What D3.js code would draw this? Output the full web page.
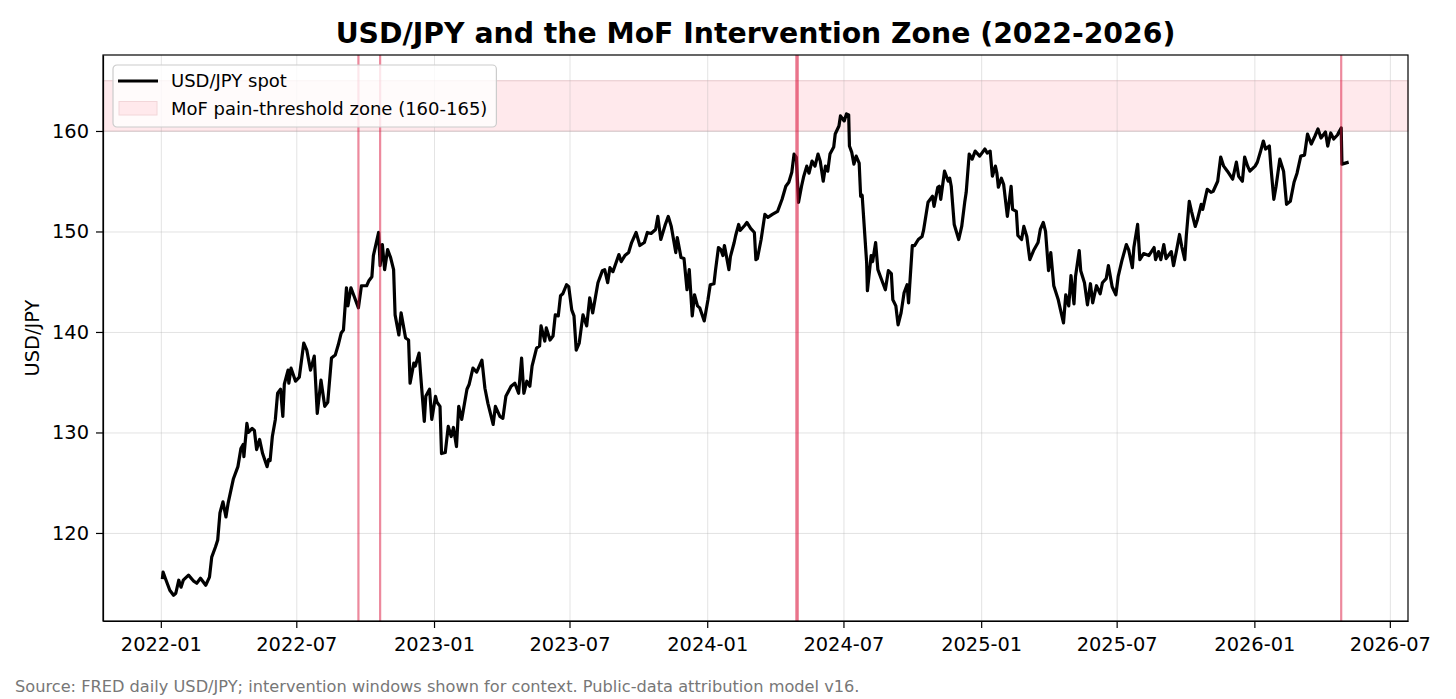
<!DOCTYPE html>
<html lang="en">
<head>
<meta charset="UTF-8">
<title>USD/JPY and the MoF Intervention Zone</title>
<script src="https://d3js.org/d3.v7.min.js"></script>
<style>
    body { margin: 0; background: #fff; }
    svg { font-family: "DejaVu Sans", sans-serif; }
    .grid line { stroke: #b0b0b0; stroke-opacity: 0.35; stroke-width: 1px; }
    .grid path { display: none; }
    .axis path, .axis line { stroke: #000; stroke-width: 1.2px; }
    .axis text { font-family: "DejaVu Sans", sans-serif; font-size: 19.4px; fill: #000; }
</style>
</head>
<body>
<svg width="1456" height="699"></svg>
<script>
const dates = [
    "2022-01-03","2022-01-04","2022-01-07","2022-01-13","2022-01-18","2022-01-21","2022-01-25","2022-01-28","2022-01-31",
    "2022-02-07","2022-02-14","2022-02-18","2022-02-23","2022-03-02","2022-03-07","2022-03-10","2022-03-15","2022-03-18",
    "2022-03-21","2022-03-25","2022-03-29","2022-04-01","2022-04-08","2022-04-14","2022-04-18","2022-04-21","2022-04-22",
    "2022-04-26","2022-04-28","2022-05-03","2022-05-06","2022-05-09","2022-05-13","2022-05-17","2022-05-23","2022-05-25",
    "2022-05-27","2022-05-30","2022-06-03","2022-06-06","2022-06-10","2022-06-13","2022-06-15","2022-06-20","2022-06-21",
    "2022-06-24","2022-06-30","2022-07-05","2022-07-11","2022-07-15","2022-07-20","2022-07-25","2022-07-29","2022-08-03",
    "2022-08-08","2022-08-12","2022-08-17","2022-08-22","2022-08-26","2022-08-30","2022-09-02","2022-09-06","2022-09-08",
    "2022-09-12","2022-09-16","2022-09-22","2022-09-26","2022-10-03","2022-10-06","2022-10-10","2022-10-12","2022-10-19",
    "2022-10-21","2022-10-24","2022-10-27","2022-10-31","2022-11-04","2022-11-08","2022-11-10","2022-11-15","2022-11-18",
    "2022-11-24","2022-11-28","2022-11-30","2022-12-05","2022-12-07","2022-12-12","2022-12-15","2022-12-19","2022-12-21",
    "2022-12-26","2022-12-29",
    "2023-01-03","2023-01-05","2023-01-09","2023-01-11","2023-01-16","2023-01-20","2023-01-24","2023-01-27","2023-01-31",
    "2023-02-03","2023-02-07","2023-02-14","2023-02-17","2023-02-22","2023-02-27","2023-03-06","2023-03-10","2023-03-14",
    "2023-03-21","2023-03-24","2023-03-30","2023-04-03","2023-04-07","2023-04-14","2023-04-19","2023-04-24","2023-04-28",
    "2023-05-01","2023-05-05","2023-05-09","2023-05-12","2023-05-18","2023-05-22","2023-05-24","2023-05-29","2023-05-31",
    "2023-06-05","2023-06-09","2023-06-12","2023-06-16","2023-06-19","2023-06-22","2023-06-27","2023-06-30","2023-07-04",
    "2023-07-07","2023-07-10","2023-07-14","2023-07-19","2023-07-24","2023-07-28","2023-08-01","2023-08-08","2023-08-14",
    "2023-08-17","2023-08-21","2023-08-24","2023-08-28","2023-09-05","2023-09-08","2023-09-13","2023-09-18","2023-09-22",
    "2023-09-28","2023-10-03","2023-10-09","2023-10-13","2023-10-18","2023-10-24","2023-10-27","2023-10-31","2023-11-06",
    "2023-11-10","2023-11-14","2023-11-20","2023-11-22","2023-11-27","2023-12-01","2023-12-05","2023-12-08","2023-12-12",
    "2023-12-15","2023-12-19","2023-12-22","2023-12-28",
    "2024-01-02","2024-01-05","2024-01-10","2024-01-12","2024-01-16","2024-01-19","2024-01-22","2024-01-24","2024-01-30",
    "2024-02-01","2024-02-06","2024-02-08","2024-02-12","2024-02-14","2024-02-20","2024-02-23","2024-02-28","2024-03-04",
    "2024-03-06","2024-03-08","2024-03-13","2024-03-18","2024-03-22","2024-03-28","2024-04-04","2024-04-10","2024-04-15",
    "2024-04-19","2024-04-23","2024-04-26","2024-04-29","2024-05-02","2024-05-06","2024-05-09","2024-05-13","2024-05-16",
    "2024-05-20","2024-05-24","2024-05-28","2024-05-31","2024-06-04","2024-06-07","2024-06-10","2024-06-13","2024-06-18",
    "2024-06-20","2024-06-25","2024-06-27","2024-07-02","2024-07-05","2024-07-08","2024-07-09","2024-07-12","2024-07-15",
    "2024-07-18","2024-07-22","2024-07-24","2024-07-26","2024-08-01","2024-08-02","2024-08-07","2024-08-09","2024-08-13",
    "2024-08-16","2024-08-21","2024-08-26","2024-08-30","2024-09-03","2024-09-05","2024-09-09","2024-09-12","2024-09-16",
    "2024-09-20","2024-09-24","2024-09-26","2024-10-01","2024-10-04","2024-10-09","2024-10-14","2024-10-16","2024-10-22",
    "2024-10-28","2024-10-30","2024-11-04","2024-11-06","2024-11-08","2024-11-13","2024-11-18","2024-11-20","2024-11-22",
    "2024-11-26","2024-12-02","2024-12-06","2024-12-10","2024-12-12","2024-12-16","2024-12-20","2024-12-24","2024-12-30",
    "2025-01-06","2025-01-09","2025-01-13","2025-01-16","2025-01-20","2025-01-22","2025-01-24","2025-01-28","2025-01-31",
    "2025-02-05","2025-02-10","2025-02-12","2025-02-17","2025-02-19","2025-02-24","2025-02-27","2025-03-03","2025-03-07",
    "2025-03-12","2025-03-18","2025-03-21","2025-03-25","2025-03-28","2025-04-01","2025-04-04","2025-04-08","2025-04-14",
    "2025-04-17","2025-04-21","2025-04-24","2025-04-28","2025-05-01","2025-05-05","2025-05-07","2025-05-12","2025-05-14",
    "2025-05-19","2025-05-23","2025-05-27","2025-05-30","2025-06-04","2025-06-09","2025-06-12","2025-06-17","2025-06-20",
    "2025-06-25","2025-06-30","2025-07-03","2025-07-08","2025-07-14","2025-07-17","2025-07-22","2025-07-24","2025-07-29",
    "2025-08-01","2025-08-06","2025-08-13","2025-08-20","2025-08-22","2025-08-26","2025-08-29","2025-09-02","2025-09-05",
    "2025-09-12","2025-09-15","2025-09-19","2025-09-23","2025-09-26","2025-09-30","2025-10-02","2025-10-06","2025-10-09",
    "2025-10-14","2025-10-17","2025-10-22","2025-10-24","2025-10-30","2025-11-04","2025-11-07","2025-11-13","2025-11-17",
    "2025-11-21","2025-11-26","2025-12-03","2025-12-08","2025-12-11","2025-12-16","2025-12-19","2025-12-23","2025-12-26",
    "2026-01-02","2026-01-05","2026-01-09","2026-01-13","2026-01-16","2026-01-21","2026-01-23","2026-01-27","2026-01-30",
    "2026-02-04","2026-02-09","2026-02-13","2026-02-18","2026-02-23","2026-02-27","2026-03-04","2026-03-09","2026-03-13",
    "2026-03-18","2026-03-23","2026-03-27","2026-03-31","2026-04-06","2026-04-09","2026-04-13","2026-04-17","2026-04-22",
    "2026-04-24","2026-04-27","2026-04-28","2026-05-07"
];

const spot = [
    115.4,116.1,115.5,114.3,113.8,114.0,115.3,114.6,115.3,
    115.8,115.2,115.0,115.5,114.8,115.6,117.6,118.6,119.3,
    122.0,123.1,121.6,123.0,125.4,126.6,128.4,128.8,127.6,
    130.9,130.0,130.4,130.2,128.3,129.3,127.9,126.6,127.3,
    127.2,129.6,131.3,133.9,134.3,131.6,134.8,136.2,134.9,
    136.4,135.1,135.5,138.9,138.2,136.2,137.6,131.9,135.2,
    132.6,133.0,137.4,137.7,138.7,139.9,140.2,144.4,142.6,
    144.4,143.6,142.4,144.6,144.6,145.1,145.5,147.6,149.9,
    146.6,148.7,146.2,148.2,147.4,146.2,141.7,139.7,141.9,
    139.4,139.2,134.9,136.9,136.6,137.9,134.9,131.1,133.6,
    134.3,131.3,
    133.6,133.0,132.6,127.9,128.0,130.6,129.6,130.5,128.6,
    132.6,131.3,134.3,134.8,136.4,136.0,137.2,134.4,132.9,
    130.8,132.6,131.6,131.4,133.6,134.6,134.9,133.9,137.4,
    133.9,135.1,134.6,136.6,138.4,138.6,140.6,139.1,140.4,
    139.2,139.6,141.7,141.6,143.6,143.8,144.7,144.5,142.2,
    141.6,138.2,138.9,141.7,140.6,143.4,141.9,144.9,146.1,
    146.2,144.9,146.4,146.0,147.7,147.0,147.6,147.9,148.9,
    149.9,148.6,148.9,149.9,149.8,150.2,151.5,149.2,150.7,
    151.5,150.5,147.9,149.4,147.4,147.3,144.2,146.2,141.6,
    143.7,142.6,142.4,141.1,
    143.2,144.7,144.8,146.1,148.4,148.2,147.6,148.6,146.2,
    147.5,148.9,149.6,150.7,150.1,150.6,150.9,150.3,149.9,
    147.2,147.3,149.2,151.7,151.4,151.7,152.0,153.2,154.5,
    154.9,155.9,157.7,157.4,152.9,154.5,155.5,156.5,155.8,
    157.0,156.5,157.7,157.0,155.0,156.5,156.0,157.7,158.4,
    159.7,160.5,161.5,161.0,161.7,161.6,158.5,157.9,156.7,
    157.5,156.8,153.5,153.6,146.9,144.1,147.6,147.0,148.9,
    146.2,145.2,144.2,146.1,145.8,143.2,142.6,140.7,141.9,
    143.9,144.7,142.9,148.6,148.6,149.2,149.5,150.1,152.9,
    153.5,152.5,154.4,154.5,153.2,156.0,155.0,155.3,154.5,
    150.7,149.2,150.5,152.9,153.9,157.7,157.2,158.0,157.5,
    158.2,157.8,158.0,155.5,156.5,155.8,154.4,155.3,154.7,
    151.5,154.5,152.2,152.0,149.6,149.2,150.5,149.5,147.2,
    148.1,148.9,150.2,150.9,150.0,146.1,147.9,144.6,143.2,
    142.2,140.9,143.7,142.6,145.6,142.8,145.5,148.1,146.1,
    144.9,142.7,144.8,142.9,144.6,143.8,144.9,145.3,146.6,
    144.5,143.7,145.5,147.1,148.7,148.2,146.4,148.4,150.7,
    147.2,147.8,147.6,148.4,147.2,148.0,147.2,148.7,147.3,
    148.0,146.6,148.1,149.7,148.5,147.2,149.5,153.0,152.0,
    150.5,151.2,152.7,152.2,154.2,153.9,154.0,155.0,157.4,
    156.5,156.0,155.2,156.9,155.5,155.0,157.4,156.5,156.0,
    156.5,156.9,157.9,159.0,158.2,158.5,156.5,153.2,154.5,
    157.2,156.0,152.7,153.0,154.9,155.8,157.5,157.6,159.7,
    158.7,159.5,160.2,159.3,159.9,158.5,159.8,159.2,159.6,
    159.9,160.3,156.7,156.9
];

const interventionDates = ["2022-09-22", "2022-10-21", "2024-04-29", "2024-05-01", "2026-04-27"];
const zoneLow = 160;
const zoneHigh = 165;
const yTicks = [120, 130, 140, 150, 160];
const xTickDates = ["2022-01-01","2022-07-01","2023-01-01","2023-07-01","2024-01-01",
                    "2024-07-01","2025-01-01","2025-07-01","2026-01-01","2026-07-01"];

const titleText = "USD/JPY and the MoF Intervention Zone (2022-2026)";
const seriesLabel = "USD/JPY spot";
const zoneLabel = "MoF pain-threshold zone (160-165)";
const yLabel = "USD/JPY";
const footerText = "Source: FRED daily USD/JPY; intervention windows shown for context. Public-data attribution model v16.";

const parse = d3.timeParse("%Y-%m-%d");
const data = dates.map((d, i) => ({ date: parse(d), value: spot[i] }));

const svg = d3.select("svg");
const width = +svg.attr("width");
const height = +svg.attr("height");
const margin = { top: 55, right: 48, bottom: 78, left: 103 };
const iw = width - margin.left - margin.right;
const ih = height - margin.top - margin.bottom;

// matplotlib-style 5% autoscale padding
const xExt = d3.extent(data, d => d.date);
const xPad = (xExt[1] - xExt[0]) * 0.05;
const x = d3.scaleTime()
    .domain([new Date(+xExt[0] - xPad), new Date(+xExt[1] + xPad)])
    .range([0, iw]);

const yMin = d3.min(spot), yMax = Math.max(d3.max(spot), zoneHigh);
const yPad = (yMax - yMin) * 0.05;
const y = d3.scaleLinear()
    .domain([yMin - yPad, yMax + yPad])
    .range([ih, 0]);

const g = svg.append("g").attr("transform", `translate(${margin.left},${margin.top})`);

g.append("defs").append("clipPath").attr("id", "clip")
    .append("rect").attr("width", iw).attr("height", ih);

// pain-threshold band
g.append("rect")
    .attr("x", 0).attr("width", iw)
    .attr("y", y(zoneHigh)).attr("height", y(zoneLow) - y(zoneHigh))
    .attr("fill", "#ffe9ec")
    .attr("stroke", "#ebcfd2").attr("stroke-width", 1.2);

// grid
g.append("g").attr("class", "grid")
    .call(d3.axisLeft(y).tickValues(yTicks).tickSize(-iw).tickFormat(""));
g.append("g").attr("class", "grid")
    .attr("transform", `translate(0,${ih})`)
    .call(d3.axisBottom(x).tickValues(xTickDates.map(parse)).tickSize(-ih).tickFormat(""));

// spot line
const line = d3.line().x(d => x(d.date)).y(d => y(d.value));
g.append("path")
    .datum(data)
    .attr("clip-path", "url(#clip)")
    .attr("fill", "none")
    .attr("stroke", "#000")
    .attr("stroke-width", 3.2)
    .attr("stroke-linejoin", "round")
    .attr("d", line);

// intervention windows
g.append("g").selectAll("line")
    .data(interventionDates.map(parse))
    .enter().append("line")
    .attr("x1", d => x(d)).attr("x2", d => x(d))
    .attr("y1", 0).attr("y2", ih)
    .attr("stroke", "crimson")
    .attr("stroke-opacity", 0.5)
    .attr("stroke-width", 2.2);

// axes
g.append("g").attr("class", "axis")
    .attr("transform", `translate(0,${ih})`)
    .call(d3.axisBottom(x).tickValues(xTickDates.map(parse))
        .tickFormat(d3.timeFormat("%Y-%m")).tickSizeInner(7).tickSizeOuter(0).tickPadding(9));
g.append("g").attr("class", "axis")
    .call(d3.axisLeft(y).tickValues(yTicks).tickSizeInner(7).tickSizeOuter(0).tickPadding(7));

// frame
g.append("rect")
    .attr("width", iw).attr("height", ih)
    .attr("fill", "none").attr("stroke", "#000").attr("stroke-width", 1.2);

// title
svg.append("text")
    .attr("x", margin.left + iw / 2).attr("y", 43)
    .attr("text-anchor", "middle")
    .style("font-size", "28.3px").style("font-weight", "bold")
    .text(titleText);

// y label
svg.append("text")
    .attr("transform", `translate(39,${margin.top + ih / 2}) rotate(-90)`)
    .attr("text-anchor", "middle")
    .style("font-size", "19.4px")
    .text(yLabel);

// footer
svg.append("text")
    .attr("x", 15).attr("y", 692)
    .style("font-size", "16.2px").attr("fill", "#777")
    .text(footerText);

// legend
const leg = g.append("g").attr("transform", "translate(10,10)");
const legBox = leg.append("rect")
    .attr("rx", 4).attr("ry", 4)
    .attr("fill", "#fff").attr("fill-opacity", 0.8)
    .attr("stroke", "#ccc").attr("stroke-width", 1.2);
leg.append("line")
    .attr("x1", 5).attr("x2", 45).attr("y1", 16).attr("y2", 16)
    .attr("stroke", "#000").attr("stroke-width", 3.2);
leg.append("rect")
    .attr("x", 6).attr("y", 36.5).attr("width", 38).attr("height", 13.5)
    .attr("fill", "#ffe9ec")
    .attr("stroke", "#f2d6d9");
const legText = leg.selectAll("text.lbl")
    .data([seriesLabel, zoneLabel])
    .enter().append("text")
    .attr("class", "lbl")
    .attr("x", 58).attr("y", (d, i) => 22 + i * 27.5)
    .style("font-size", "18px")
    .text(d => d);
const tw = d3.max(legText.nodes(), n => n.getComputedTextLength());
legBox.attr("x", 0).attr("y", 0).attr("width", 58 + tw + 9).attr("height", 62);
</script>
</body>
</html>
